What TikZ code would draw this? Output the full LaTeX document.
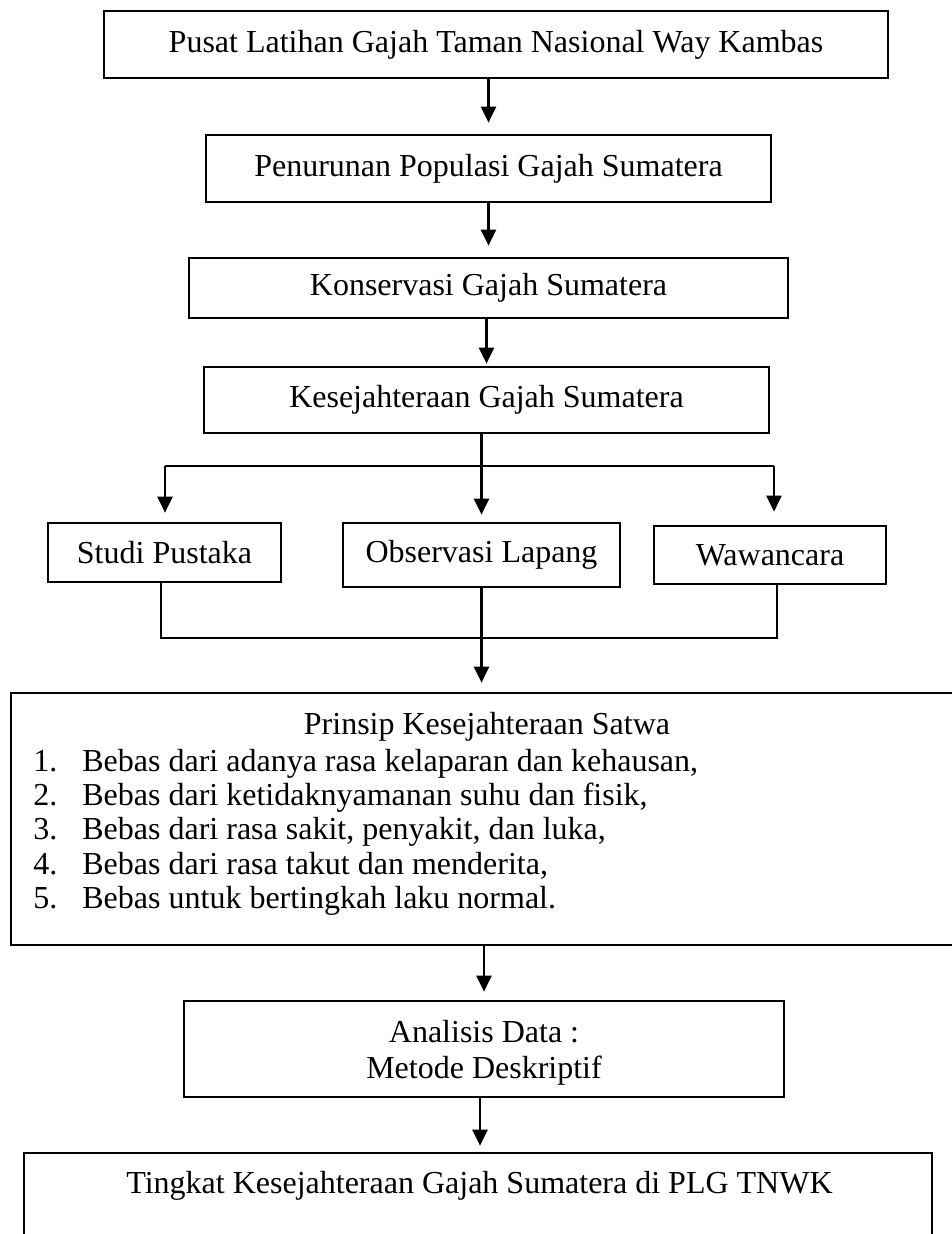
\documentclass[tikz,border=0pt]{standalone}
\usepackage{fontspec}
\setmainfont{Liberation Serif}
\usetikzlibrary{arrows.meta,calc}
\begin{document}
\begin{tikzpicture}[x=0.5pt,y=-0.5pt,
 box/.style={draw,line width=1.35pt,inner sep=0pt,font=\fontsize{16}{16.5}\selectfont},
 txt/.style={inner sep=0pt,font=\fontsize{16}{16.5}\selectfont},
 arr/.style={line width=1.25pt,-{Triangle[length=8pt,width=7.5pt]}},
 ln/.style={line width=1.3pt}]
\useasboundingbox (0,0) rectangle (951,1234);
% main chain
\node[box,minimum width=392pt,minimum height=33.5pt] (b1) at (496,44.5) {Pusat Latihan Gajah Taman Nasional Way Kambas};
\node[box,minimum width=282.5pt,minimum height=33.5pt] (b2) at (488.5,168.5) {Penurunan Populasi Gajah Sumatera};
\node[box,minimum width=299.5pt,minimum height=30pt] (b3) at (488.5,288) {Konservasi Gajah Sumatera};
\node[box,minimum width=282.5pt,minimum height=33pt] (b4) at (486.5,400) {Kesejahteraan Gajah Sumatera};
\draw[arr] (b2.north |- b1.south) -- ([yshift=5.5pt]b2.north);
\draw[arr] (b3.north |- b2.south) -- ([yshift=5.5pt]b3.north);
\draw[arr] (b4.north |- b3.south) -- ([yshift=1pt]b4.north);
% methods
\node[box,minimum width=116.5pt,minimum height=29.5pt] (studi) at (164.5,552.5) {Studi Pustaka};
\node[box,minimum width=138.5pt,minimum height=32pt] (obs) at (481.5,555) {Observasi Lapang};
\node[box,minimum width=116pt,minimum height=29pt] (waw) at (770,555) {Wawancara};
\coordinate (hl) at (165,466);
\coordinate (hr) at (774,466);
\draw[ln] (hl) -- (hr);
\draw[arr] (obs.north |- b4.south) -- ([yshift=3.5pt]obs.north);
\draw[arr] (hl) -- ($(hl |- studi.north)+(0,-9)$);
\draw[arr] (hr) -- ($(hr |- waw.north)+(0,-13)$);
% join
\node[box,minimum width=477pt,minimum height=126pt] (prin) at (488,819) {};
\coordinate (jl) at (161,638);
\coordinate (jr) at (777,638);
\draw[ln] (jl |- studi.south) -- (jl) -- (jr) -- (jr |- waw.south);
\draw[arr] (obs.south) -- ($(obs.south |- prin.north)+(0,-9)$);
\node[txt,anchor=base] (pt) at (487,734) {Prinsip Kesejahteraan Satwa};
\node[txt,anchor=base west] (n1) at (33,771) {1.};
\node[txt,anchor=base west] (t1) at (82,771) {Bebas dari adanya rasa kelaparan dan kehausan,};
\node[txt,anchor=base west] (n2) at (33,805) {2.};
\node[txt,anchor=base west] (t2) at (82,805) {Bebas dari ketidaknyamanan suhu dan fisik,};
\node[txt,anchor=base west] (n3) at (33,839) {3.};
\node[txt,anchor=base west] (t3) at (82,839) {Bebas dari rasa sakit, penyakit, dan luka,};
\node[txt,anchor=base west] (n4) at (33,874) {4.};
\node[txt,anchor=base west] (t4) at (82,874) {Bebas dari rasa takut dan menderita,};
\node[txt,anchor=base west] (n5) at (33,908) {5.};
\node[txt,anchor=base west] (t5) at (82,908) {Bebas untuk bertingkah laku normal.};
% analysis
\node[box,minimum width=300pt,minimum height=48pt] (ana) at (484,1049) {};
\node[txt,anchor=base] (a1) at (484,1042) {Analisis Data :};
\node[txt,anchor=base] (a2) at (484,1078) {Metode Deskriptif};
\draw[arr] (prin.south -| ana.north) -- ([yshift=4pt]ana.north);
\node[box,minimum width=454pt,minimum height=73.5pt] (last) at (478,1226.5) {};
\node[txt,anchor=base] (lt) at (479.5,1193) {Tingkat Kesejahteraan Gajah Sumatera di PLG TNWK};
\draw[arr] ([xshift=1pt]last.north |- ana.south) -- ([xshift=1pt,yshift=3pt]last.north);
\end{tikzpicture}
\end{document}
